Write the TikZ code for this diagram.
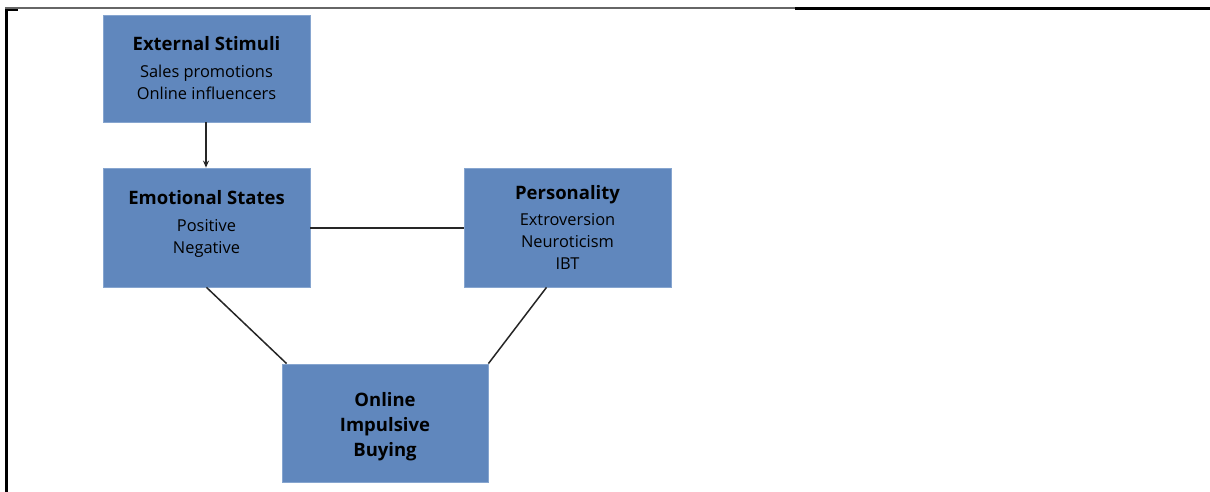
\documentclass[tikz,border=0pt]{standalone}
\usepackage{fontspec}
\setmainfont{Open Sans}
\usetikzlibrary{calc,arrows.meta}
\definecolor{boxblue}{HTML}{6087BD}
\definecolor{boxedge}{HTML}{86A5CF}
\tikzset{
  box/.style={draw=boxedge, line width=0.8pt, fill=boxblue, minimum width=207pt, align=center,
    font=\fontsize{16.4pt}{22pt}\selectfont, text=black, inner sep=0pt},
  conn/.style={line width=1.5pt, draw=black!85},
}
\newcommand{\boxtitle}[1]{\textbf{\fontsize{18.5pt}{22pt}\selectfont #1}}
\begin{document}
\begin{tikzpicture}[x=1pt,y=-1pt]
\useasboundingbox[fill=white] (0,0) rectangle (1210,492);
% frame
\draw[line width=1.5pt, black!60] (5,8) -- (795,8);
\draw[line width=3pt, black] (795,8.5) -- (1210,8.5);
\draw[line width=2.5pt, black] (6.5,9) -- (6.5,492);
\draw[line width=2pt, black] (5,10) -- (18,10);
% boxes
\node[box, minimum height=107pt] (ext) at (206.5,68.5)
  {\boxtitle{External Stimuli}\\[5pt]Sales promotions\\Online influencers};
\node[box, minimum height=119pt] (emo) at (206.5,227.5)
  {\boxtitle{Emotional States}\\[5pt]Positive\\Negative\\[-10pt]\mbox{}};
\node[box, minimum height=119pt] (per) at (567.5,227.5)
  {\boxtitle{Personality}\\[4pt]Extroversion\\Neuroticism\\IBT};
\node[box, minimum width=206pt, minimum height=118pt, font=\bfseries\fontsize{18.5pt}{25pt}\selectfont] (oib) at (385,423)
  {Online\\Impulsive\\Buying\\[-27pt]\mbox{}};
% connectors
\draw[conn, -{Stealth[length=7pt,width=6pt]}] ($(ext.south)+(-0.5,0)$) -- ($(emo.north)+(-0.5,0)$);
\draw[conn] (emo.east |- 0,228) -- (per.west |- 0,228);
\draw[conn] (emo.south) -- ($(oib.north west)+(5,0)$);
\draw[conn] ($(per.south)+(-21,0)$) -- (oib.north east);
\end{tikzpicture}
\end{document}
